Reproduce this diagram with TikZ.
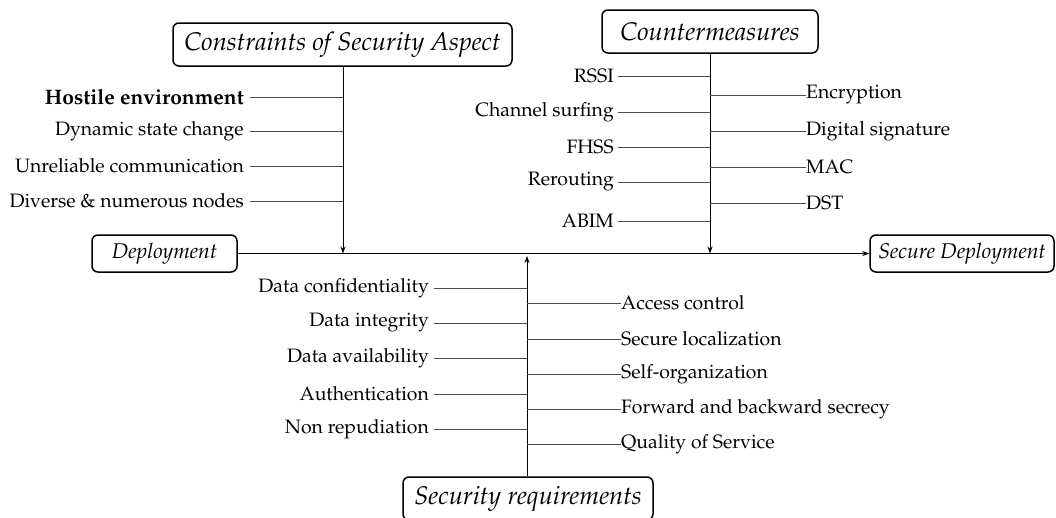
\documentclass[tikz,border=0pt]{standalone}
\usepackage[T1]{fontenc}
\usepackage{mathpazo}
\usetikzlibrary{arrows.meta}
\begin{document}
\begin{tikzpicture}[x=1pt,y=-1pt,
  box/.style={draw=black,line width=1.5pt,rounded corners=6pt,font=\fontsize{25.5}{28}\selectfont\itshape,inner sep=0pt,align=center},
  sbox/.style={box,font=\fontsize{21.3}{24}\selectfont\itshape},
  lab/.style={font=\fontsize{19.4}{22}\selectfont,inner sep=0pt},
  br/.style={draw=black!70,line width=0.9pt},
  spine/.style={draw=black,line width=0.9pt,-{Stealth[length=7pt,width=5pt]}}]
\useasboundingbox (0,0) rectangle (1056,517);
% boxes
\node[box,minimum width=339pt,minimum height=43pt] (cons) at (342.5,44.5) {Constraints of Security Aspect};
\node[box,minimum width=216pt,minimum height=43pt] (cm) at (710,31.5) {Countermeasures};
\node[sbox,minimum width=145pt,minimum height=37pt] (dep) at (164.5,253.5) {Deployment};
\node[sbox,minimum width=184pt,minimum height=37pt] (sd) at (962,253.5) {Secure Deployment};
\node[box,minimum width=250pt,minimum height=43pt] (sr) at (528,498.5) {Security requirements};
% spine coordinates
\coordinate (cx) at (343,253.5);
\coordinate (mx) at (710,253.5);
\coordinate (rx) at (527,256);
\draw[spine] (dep.east) -- (sd.west);
\draw[spine] (cons.south -| cx) -- (cx);
\draw[spine] (cm.south -| mx) -- (mx);
\draw[spine] (sr.north -| rx) -- (rx);
% constraints
\foreach \y/\t/\n in {97/{\fontsize{21}{22}\selectfont\bfseries Hostile environment}/a1,131/Dynamic state change/a2,166/Unreliable communication/a3,201/Diverse \& numerous nodes/a4}{
  \node[lab,anchor=east] (\n) at (244,\y) {\t};
  \draw[br] ([xshift=6pt]\n.east) -- (\n.east -| cx);
}
% countermeasures left
\foreach \y/\t/\n in {76/RSSI/b1,112/Channel surfing/b2,147/FHSS/b3,182/Rerouting/b4,221/ABIM/b5}{
  \node[lab,anchor=east] (\n) at (614,\y) {\t};
  \draw[br] ([xshift=4pt]\n.east) -- (\n.east -| mx);
}
% countermeasures right
\foreach \y/\t/\n in {95/Encryption/c1,131/Digital signature/c2,167/MAC/c3,203/DST/c4}{
  \node[lab,anchor=west] (\n) at (806,\y) {\t};
  \draw[br] (\n.west -| mx) -- (\n.west);
}
% requirements left
\foreach \y/\t/\n in {288/Data confidentiality/d1,323/Data integrity/d2,358/Data availability/d3,394/Authentication/d4,429/Non repudiation/d5}{
  \node[lab,anchor=east] (\n) at (429,\y) {\t};
  \draw[br] (\n.east -| 434,0) -- (\n.east -| rx);
}
% requirements right
\foreach \y/\t/\n in {303/Access control/e1,339/Secure localization/e2,374/Self-organization/e3,409/Forward and backward secrecy/e4,444/Quality of Service/e5}{
  \node[lab,anchor=west] (\n) at (621,\y) {\t};
  \draw[br] (\n.west -| rx) -- (\n.west);
}
\end{tikzpicture}
\end{document}
